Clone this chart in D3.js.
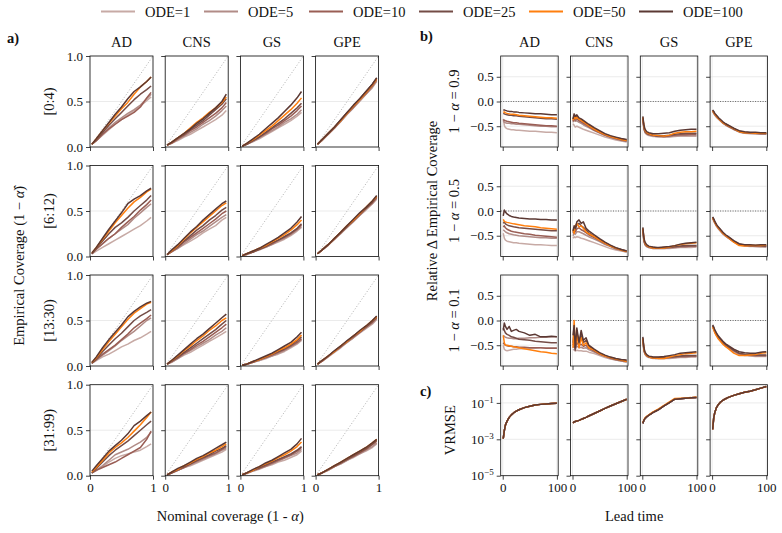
<!DOCTYPE html>
<html>
<head>
<meta charset="utf-8">
<script src="https://cdn.jsdelivr.net/npm/d3@7"></script>
<style>
  body { margin: 0; background: #fff; }
  text { font-family: "Liberation Serif", "Times New Roman", serif; fill: #111; }
</style>
</head>
<body>
<div class="chart"></div>
<script>
// ---- data ----
const odeLabels = ["ODE=1", "ODE=5", "ODE=10", "ODE=25", "ODE=50", "ODE=100"];
const odeColors = ["#c7aaa5", "#b18c87", "#9a5e55", "#744c46", "#ff7f0e", "#5b3833"];
const datasets = ["AD", "CNS", "GS", "GPE"];
const leadBins = ["[0:4)", "[6:12)", "[13:30)", "[31:99)"];
const alphaRows = ["0.9", "0.5", "0.1"];

// panel a: empirical vs nominal coverage, [bin][ode][point]
const nominal = [0.03, 0.1, 0.2, 0.3, 0.4, 0.5, 0.6, 0.7, 0.8, 0.9, 0.97];

const covAD = [
  [[0.03,0.07,0.13,0.19,0.25,0.30,0.35,0.40,0.45,0.51,0.55],
   [0.03,0.07,0.14,0.21,0.27,0.32,0.37,0.41,0.46,0.53,0.58],
   [0.03,0.07,0.14,0.20,0.25,0.30,0.34,0.38,0.44,0.54,0.60],
   [0.03,0.08,0.16,0.24,0.31,0.38,0.45,0.52,0.58,0.63,0.67],
   [0.03,0.09,0.18,0.26,0.34,0.42,0.49,0.58,0.66,0.72,0.77],
   [0.03,0.09,0.18,0.27,0.36,0.44,0.53,0.61,0.66,0.72,0.77]],
  [[0.03,0.06,0.10,0.14,0.18,0.22,0.26,0.30,0.34,0.39,0.43],
   [0.03,0.08,0.14,0.20,0.25,0.30,0.35,0.42,0.48,0.54,0.58],
   [0.03,0.08,0.14,0.20,0.25,0.32,0.38,0.44,0.51,0.57,0.62],
   [0.03,0.09,0.17,0.25,0.32,0.37,0.43,0.50,0.56,0.62,0.67],
   [0.04,0.10,0.19,0.28,0.37,0.45,0.53,0.60,0.65,0.71,0.74],
   [0.04,0.10,0.20,0.30,0.39,0.48,0.58,0.63,0.67,0.72,0.75]],
  [[0.03,0.06,0.10,0.13,0.17,0.21,0.24,0.28,0.31,0.35,0.38],
   [0.03,0.07,0.12,0.17,0.22,0.28,0.33,0.38,0.44,0.50,0.53],
   [0.03,0.07,0.13,0.18,0.23,0.29,0.35,0.42,0.47,0.52,0.56],
   [0.03,0.08,0.16,0.23,0.30,0.36,0.43,0.50,0.55,0.59,0.62],
   [0.04,0.09,0.18,0.27,0.35,0.43,0.51,0.58,0.63,0.68,0.70],
   [0.04,0.10,0.20,0.29,0.37,0.45,0.54,0.60,0.65,0.69,0.71]],
  [[0.03,0.06,0.10,0.15,0.19,0.22,0.24,0.26,0.28,0.32,0.35],
   [0.03,0.06,0.11,0.17,0.23,0.26,0.29,0.33,0.37,0.42,0.48],
   [0.03,0.06,0.09,0.12,0.15,0.19,0.23,0.27,0.31,0.40,0.49],
   [0.03,0.08,0.15,0.22,0.28,0.33,0.38,0.44,0.50,0.56,0.60],
   [0.04,0.09,0.17,0.25,0.31,0.36,0.42,0.49,0.56,0.64,0.70],
   [0.05,0.11,0.19,0.27,0.33,0.39,0.46,0.55,0.60,0.66,0.70]]
];
const covCNS = [
  [[0.02,0.04,0.07,0.11,0.14,0.18,0.22,0.26,0.30,0.35,0.40],
   [0.02,0.04,0.08,0.12,0.16,0.20,0.25,0.29,0.34,0.40,0.45],
   [0.02,0.04,0.09,0.13,0.18,0.22,0.27,0.32,0.37,0.43,0.49],
   [0.02,0.05,0.10,0.14,0.19,0.24,0.29,0.35,0.41,0.47,0.53],
   [0.02,0.05,0.10,0.15,0.21,0.27,0.32,0.38,0.43,0.49,0.55],
   [0.02,0.05,0.10,0.15,0.20,0.26,0.31,0.37,0.43,0.50,0.58]],
  [[0.02,0.05,0.09,0.13,0.17,0.21,0.26,0.30,0.34,0.40,0.43],
   [0.02,0.05,0.09,0.14,0.19,0.24,0.28,0.33,0.38,0.43,0.46],
   [0.02,0.05,0.10,0.16,0.21,0.26,0.31,0.36,0.41,0.47,0.50],
   [0.02,0.06,0.11,0.17,0.23,0.29,0.34,0.40,0.45,0.51,0.54],
   [0.02,0.06,0.12,0.19,0.26,0.32,0.38,0.44,0.50,0.56,0.59],
   [0.02,0.07,0.13,0.20,0.27,0.33,0.40,0.46,0.52,0.58,0.61]],
  [[0.02,0.04,0.08,0.12,0.15,0.19,0.23,0.27,0.31,0.35,0.38],
   [0.02,0.04,0.08,0.13,0.17,0.21,0.25,0.29,0.34,0.38,0.42],
   [0.02,0.05,0.09,0.14,0.18,0.23,0.27,0.32,0.37,0.42,0.46],
   [0.02,0.05,0.10,0.15,0.20,0.25,0.30,0.35,0.40,0.46,0.50],
   [0.02,0.06,0.11,0.17,0.22,0.28,0.33,0.39,0.44,0.50,0.53],
   [0.02,0.06,0.12,0.18,0.24,0.30,0.35,0.41,0.47,0.53,0.57]],
  [[0.01,0.03,0.06,0.09,0.11,0.14,0.17,0.20,0.23,0.26,0.29],
   [0.01,0.03,0.06,0.09,0.12,0.15,0.18,0.21,0.24,0.28,0.30],
   [0.01,0.03,0.06,0.09,0.13,0.16,0.19,0.22,0.25,0.29,0.32],
   [0.01,0.03,0.07,0.10,0.13,0.17,0.20,0.23,0.27,0.30,0.33],
   [0.01,0.04,0.07,0.11,0.14,0.18,0.21,0.25,0.28,0.32,0.35],
   [0.01,0.04,0.08,0.11,0.15,0.19,0.22,0.26,0.30,0.34,0.37]]
];
const covGS = [
  [[0.01,0.03,0.06,0.09,0.13,0.17,0.21,0.25,0.29,0.34,0.38],
   [0.01,0.03,0.06,0.10,0.14,0.18,0.22,0.27,0.31,0.36,0.41],
   [0.01,0.03,0.07,0.11,0.15,0.20,0.24,0.29,0.34,0.40,0.45],
   [0.01,0.03,0.07,0.11,0.16,0.21,0.26,0.31,0.37,0.43,0.48],
   [0.01,0.04,0.08,0.13,0.18,0.23,0.29,0.35,0.41,0.48,0.54],
   [0.01,0.04,0.09,0.14,0.20,0.26,0.32,0.39,0.46,0.54,0.61]],
  [[0.01,0.02,0.05,0.07,0.10,0.13,0.16,0.19,0.23,0.28,0.32],
   [0.01,0.02,0.05,0.08,0.10,0.13,0.17,0.20,0.24,0.29,0.33],
   [0.01,0.03,0.05,0.08,0.11,0.14,0.18,0.21,0.25,0.30,0.35],
   [0.01,0.03,0.05,0.08,0.11,0.15,0.18,0.22,0.26,0.31,0.36],
   [0.01,0.03,0.06,0.09,0.12,0.16,0.20,0.24,0.29,0.35,0.40],
   [0.01,0.03,0.06,0.09,0.13,0.17,0.21,0.26,0.31,0.38,0.44]],
  [[0.01,0.02,0.04,0.06,0.08,0.11,0.13,0.16,0.20,0.24,0.28],
   [0.01,0.02,0.04,0.06,0.09,0.11,0.14,0.17,0.21,0.25,0.29],
   [0.01,0.02,0.04,0.07,0.09,0.12,0.15,0.18,0.22,0.26,0.30],
   [0.01,0.02,0.05,0.07,0.10,0.13,0.16,0.19,0.23,0.28,0.32],
   [0.01,0.02,0.05,0.07,0.10,0.13,0.17,0.20,0.24,0.29,0.34],
   [0.01,0.02,0.05,0.08,0.11,0.14,0.18,0.22,0.26,0.32,0.37]],
  [[0.01,0.02,0.05,0.07,0.10,0.12,0.15,0.17,0.20,0.23,0.27],
   [0.01,0.03,0.05,0.08,0.10,0.13,0.16,0.19,0.22,0.25,0.29],
   [0.01,0.03,0.06,0.08,0.11,0.14,0.17,0.20,0.23,0.27,0.31],
   [0.01,0.03,0.06,0.09,0.12,0.15,0.18,0.21,0.24,0.28,0.32],
   [0.01,0.03,0.06,0.10,0.13,0.16,0.20,0.23,0.27,0.32,0.37],
   [0.01,0.03,0.07,0.10,0.14,0.17,0.21,0.25,0.29,0.35,0.41]]
];
const covGPE = [
  [[0.03,0.07,0.14,0.21,0.28,0.36,0.43,0.50,0.58,0.65,0.72],
   [0.03,0.07,0.14,0.21,0.28,0.36,0.43,0.51,0.58,0.66,0.73],
   [0.03,0.08,0.14,0.21,0.29,0.37,0.44,0.52,0.59,0.67,0.74],
   [0.03,0.08,0.15,0.22,0.30,0.38,0.45,0.53,0.61,0.69,0.76],
   [0.03,0.08,0.15,0.22,0.29,0.37,0.45,0.52,0.60,0.68,0.75],
   [0.03,0.08,0.15,0.22,0.30,0.38,0.46,0.53,0.61,0.69,0.76]],
  [[0.03,0.07,0.12,0.19,0.25,0.32,0.38,0.45,0.51,0.58,0.63],
   [0.03,0.07,0.13,0.19,0.26,0.32,0.39,0.45,0.52,0.58,0.64],
   [0.03,0.07,0.13,0.19,0.26,0.33,0.39,0.46,0.53,0.59,0.65],
   [0.03,0.07,0.13,0.20,0.26,0.33,0.40,0.47,0.53,0.60,0.66],
   [0.03,0.07,0.13,0.20,0.27,0.34,0.40,0.47,0.54,0.61,0.66],
   [0.03,0.07,0.13,0.20,0.27,0.34,0.41,0.48,0.54,0.61,0.67]],
  [[0.02,0.05,0.10,0.15,0.20,0.26,0.31,0.36,0.41,0.46,0.51],
   [0.02,0.05,0.10,0.16,0.21,0.26,0.31,0.37,0.42,0.47,0.52],
   [0.02,0.05,0.11,0.16,0.21,0.27,0.32,0.37,0.43,0.48,0.53],
   [0.02,0.06,0.11,0.16,0.22,0.27,0.33,0.38,0.43,0.49,0.54],
   [0.02,0.06,0.11,0.16,0.22,0.27,0.33,0.38,0.44,0.50,0.54],
   [0.02,0.06,0.11,0.17,0.22,0.28,0.33,0.39,0.44,0.50,0.55]],
  [[0.01,0.03,0.06,0.10,0.13,0.17,0.20,0.24,0.27,0.31,0.35],
   [0.01,0.03,0.06,0.10,0.13,0.17,0.21,0.24,0.28,0.32,0.36],
   [0.01,0.03,0.07,0.10,0.14,0.18,0.21,0.25,0.29,0.34,0.38],
   [0.01,0.03,0.07,0.11,0.14,0.18,0.22,0.26,0.30,0.35,0.39],
   [0.01,0.03,0.07,0.11,0.15,0.19,0.23,0.27,0.31,0.36,0.40],
   [0.01,0.03,0.07,0.11,0.15,0.19,0.23,0.27,0.31,0.36,0.40]]
];

// panel b: relative change of empirical coverage vs lead time, [alpha row][ode][point]
const leadTimes = [1, 3, 5, 8, 12, 16, 20, 25, 30, 40, 50, 60, 70, 80, 90, 100];

const relAD = [
  [[-0.35,-0.48,-0.53,-0.55,-0.56,-0.57,-0.57,-0.58,-0.58,-0.59,-0.60,-0.60,-0.61,-0.62,-0.62,-0.63],
   [-0.40,-0.42,-0.43,-0.44,-0.44,-0.45,-0.45,-0.46,-0.46,-0.47,-0.48,-0.49,-0.50,-0.50,-0.51,-0.51],
   [-0.37,-0.38,-0.39,-0.40,-0.41,-0.42,-0.43,-0.43,-0.44,-0.45,-0.46,-0.47,-0.48,-0.49,-0.49,-0.50],
   [-0.24,-0.25,-0.26,-0.27,-0.28,-0.28,-0.29,-0.29,-0.30,-0.31,-0.32,-0.33,-0.34,-0.35,-0.35,-0.36],
   [-0.22,-0.21,-0.23,-0.24,-0.25,-0.26,-0.26,-0.27,-0.28,-0.29,-0.30,-0.31,-0.32,-0.33,-0.33,-0.34],
   [-0.17,-0.17,-0.18,-0.19,-0.20,-0.20,-0.21,-0.21,-0.22,-0.23,-0.24,-0.25,-0.25,-0.26,-0.27,-0.27]],
  [[-0.45,-0.55,-0.59,-0.61,-0.62,-0.63,-0.64,-0.64,-0.65,-0.66,-0.67,-0.68,-0.68,-0.69,-0.70,-0.70],
   [-0.38,-0.40,-0.42,-0.44,-0.46,-0.47,-0.48,-0.49,-0.50,-0.51,-0.52,-0.53,-0.54,-0.54,-0.55,-0.55],
   [-0.32,-0.30,-0.34,-0.37,-0.39,-0.41,-0.42,-0.43,-0.44,-0.46,-0.47,-0.49,-0.50,-0.51,-0.52,-0.53],
   [-0.25,-0.22,-0.26,-0.28,-0.30,-0.31,-0.32,-0.33,-0.34,-0.35,-0.36,-0.37,-0.38,-0.39,-0.40,-0.40],
   [-0.17,-0.21,-0.22,-0.23,-0.24,-0.25,-0.26,-0.27,-0.28,-0.30,-0.31,-0.32,-0.34,-0.35,-0.36,-0.37],
   [-0.10,0.02,-0.02,-0.06,-0.09,-0.11,-0.12,-0.13,-0.14,-0.15,-0.16,-0.16,-0.17,-0.17,-0.18,-0.18]],
  [[-0.50,-0.58,-0.60,-0.61,-0.60,-0.59,-0.58,-0.58,-0.57,-0.57,-0.56,-0.56,-0.55,-0.55,-0.55,-0.55],
   [-0.30,-0.32,-0.34,-0.35,-0.36,-0.36,-0.37,-0.37,-0.36,-0.36,-0.35,-0.35,-0.34,-0.34,-0.33,-0.33],
   [-0.45,-0.48,-0.50,-0.51,-0.52,-0.52,-0.53,-0.53,-0.54,-0.54,-0.55,-0.55,-0.55,-0.56,-0.56,-0.56],
   [-0.15,-0.20,-0.25,-0.28,-0.30,-0.33,-0.34,-0.36,-0.38,-0.39,-0.40,-0.42,-0.43,-0.44,-0.45,-0.45],
   [-0.30,-0.45,-0.50,-0.50,-0.51,-0.52,-0.53,-0.54,-0.55,-0.57,-0.59,-0.61,-0.63,-0.64,-0.66,-0.67],
   [-0.20,-0.05,-0.12,-0.18,-0.12,-0.22,-0.20,-0.18,-0.22,-0.25,-0.30,-0.28,-0.33,-0.33,-0.32,-0.33]]
];
const relCNS = [
  [[-0.45,-0.48,-0.52,-0.50,-0.52,-0.54,-0.56,-0.58,-0.60,-0.64,-0.68,-0.72,-0.75,-0.78,-0.80,-0.82],
   [-0.42,-0.37,-0.40,-0.39,-0.42,-0.44,-0.47,-0.50,-0.53,-0.59,-0.64,-0.69,-0.73,-0.76,-0.79,-0.81],
   [-0.40,-0.33,-0.38,-0.35,-0.39,-0.41,-0.44,-0.47,-0.51,-0.58,-0.63,-0.68,-0.72,-0.75,-0.78,-0.80],
   [-0.36,-0.28,-0.33,-0.30,-0.35,-0.37,-0.40,-0.44,-0.48,-0.55,-0.61,-0.66,-0.70,-0.73,-0.76,-0.78],
   [-0.38,-0.30,-0.35,-0.32,-0.36,-0.38,-0.41,-0.45,-0.49,-0.56,-0.62,-0.67,-0.71,-0.74,-0.77,-0.79],
   [-0.35,-0.25,-0.30,-0.27,-0.33,-0.35,-0.38,-0.42,-0.46,-0.53,-0.59,-0.65,-0.69,-0.72,-0.75,-0.77]],
  [[-0.55,-0.52,-0.54,-0.52,-0.53,-0.55,-0.56,-0.58,-0.60,-0.64,-0.68,-0.72,-0.76,-0.79,-0.81,-0.83],
   [-0.50,-0.45,-0.47,-0.42,-0.42,-0.44,-0.46,-0.49,-0.52,-0.57,-0.62,-0.68,-0.72,-0.77,-0.80,-0.83],
   [-0.45,-0.40,-0.42,-0.36,-0.34,-0.38,-0.40,-0.44,-0.48,-0.54,-0.60,-0.66,-0.71,-0.76,-0.79,-0.82],
   [-0.42,-0.35,-0.38,-0.28,-0.25,-0.30,-0.33,-0.38,-0.44,-0.51,-0.58,-0.64,-0.70,-0.75,-0.78,-0.81],
   [-0.38,-0.45,-0.30,-0.25,-0.32,-0.30,-0.35,-0.42,-0.46,-0.52,-0.59,-0.65,-0.71,-0.75,-0.79,-0.82],
   [-0.40,-0.30,-0.35,-0.22,-0.18,-0.25,-0.22,-0.35,-0.40,-0.48,-0.56,-0.63,-0.69,-0.74,-0.78,-0.81]],
  [[-0.60,-0.58,-0.62,-0.60,-0.61,-0.61,-0.62,-0.62,-0.64,-0.67,-0.71,-0.75,-0.78,-0.80,-0.82,-0.84],
   [-0.55,-0.50,-0.58,-0.52,-0.55,-0.54,-0.56,-0.55,-0.59,-0.64,-0.69,-0.73,-0.77,-0.80,-0.82,-0.84],
   [-0.50,-0.40,-0.55,-0.45,-0.50,-0.48,-0.52,-0.50,-0.56,-0.62,-0.68,-0.72,-0.76,-0.79,-0.81,-0.83],
   [-0.45,-0.20,-0.60,-0.25,-0.40,-0.30,-0.45,-0.40,-0.52,-0.60,-0.66,-0.71,-0.75,-0.78,-0.80,-0.82],
   [-0.55,0.00,-0.50,-0.30,-0.55,-0.35,-0.50,-0.45,-0.55,-0.60,-0.67,-0.72,-0.75,-0.78,-0.80,-0.83],
   [-0.30,-0.10,-0.55,-0.15,-0.45,-0.20,-0.40,-0.35,-0.50,-0.58,-0.65,-0.70,-0.74,-0.77,-0.79,-0.80]]
];
const relGS = [
  [[-0.38,-0.56,-0.63,-0.67,-0.69,-0.70,-0.71,-0.71,-0.72,-0.72,-0.72,-0.71,-0.70,-0.70,-0.70,-0.70],
   [-0.36,-0.55,-0.62,-0.66,-0.68,-0.69,-0.70,-0.71,-0.71,-0.72,-0.71,-0.70,-0.69,-0.69,-0.69,-0.69],
   [-0.35,-0.54,-0.61,-0.65,-0.67,-0.68,-0.69,-0.70,-0.70,-0.71,-0.70,-0.68,-0.67,-0.67,-0.66,-0.66],
   [-0.33,-0.52,-0.59,-0.64,-0.66,-0.67,-0.68,-0.69,-0.69,-0.69,-0.68,-0.66,-0.65,-0.64,-0.64,-0.64],
   [-0.32,-0.50,-0.58,-0.63,-0.65,-0.67,-0.68,-0.68,-0.69,-0.70,-0.68,-0.64,-0.62,-0.61,-0.61,-0.60],
   [-0.30,-0.48,-0.56,-0.61,-0.63,-0.64,-0.65,-0.65,-0.65,-0.64,-0.63,-0.60,-0.58,-0.57,-0.56,-0.56]],
  [[-0.42,-0.62,-0.69,-0.72,-0.74,-0.75,-0.76,-0.76,-0.76,-0.76,-0.76,-0.75,-0.74,-0.74,-0.74,-0.73],
   [-0.40,-0.61,-0.68,-0.72,-0.74,-0.75,-0.76,-0.76,-0.76,-0.76,-0.75,-0.74,-0.73,-0.73,-0.72,-0.72],
   [-0.38,-0.60,-0.67,-0.71,-0.73,-0.74,-0.75,-0.75,-0.75,-0.75,-0.74,-0.73,-0.72,-0.72,-0.71,-0.71],
   [-0.36,-0.58,-0.66,-0.70,-0.72,-0.73,-0.74,-0.74,-0.75,-0.74,-0.73,-0.72,-0.71,-0.70,-0.70,-0.70],
   [-0.35,-0.57,-0.65,-0.70,-0.72,-0.74,-0.75,-0.75,-0.75,-0.75,-0.73,-0.70,-0.68,-0.66,-0.65,-0.64],
   [-0.33,-0.55,-0.63,-0.68,-0.71,-0.72,-0.73,-0.74,-0.74,-0.73,-0.72,-0.70,-0.67,-0.65,-0.64,-0.63]],
  [[-0.42,-0.62,-0.69,-0.73,-0.75,-0.76,-0.77,-0.77,-0.77,-0.77,-0.77,-0.76,-0.75,-0.75,-0.74,-0.74],
   [-0.40,-0.61,-0.68,-0.72,-0.74,-0.75,-0.76,-0.77,-0.77,-0.77,-0.76,-0.75,-0.74,-0.74,-0.73,-0.73],
   [-0.38,-0.60,-0.67,-0.71,-0.74,-0.75,-0.76,-0.76,-0.76,-0.76,-0.75,-0.74,-0.73,-0.73,-0.72,-0.72],
   [-0.36,-0.58,-0.66,-0.70,-0.73,-0.74,-0.75,-0.75,-0.75,-0.75,-0.74,-0.73,-0.72,-0.71,-0.71,-0.71],
   [-0.36,-0.58,-0.66,-0.71,-0.73,-0.75,-0.76,-0.76,-0.77,-0.77,-0.74,-0.71,-0.69,-0.67,-0.66,-0.65],
   [-0.33,-0.55,-0.64,-0.69,-0.72,-0.73,-0.74,-0.74,-0.74,-0.73,-0.71,-0.69,-0.66,-0.65,-0.64,-0.63]]
];
const relGPE = [
  [[-0.21,-0.24,-0.28,-0.32,-0.36,-0.40,-0.44,-0.48,-0.51,-0.57,-0.62,-0.64,-0.65,-0.65,-0.66,-0.66],
   [-0.20,-0.23,-0.27,-0.31,-0.36,-0.40,-0.44,-0.47,-0.50,-0.56,-0.61,-0.64,-0.64,-0.65,-0.65,-0.66],
   [-0.19,-0.22,-0.26,-0.30,-0.35,-0.39,-0.43,-0.47,-0.50,-0.56,-0.61,-0.63,-0.64,-0.64,-0.65,-0.65],
   [-0.18,-0.21,-0.25,-0.29,-0.34,-0.38,-0.42,-0.46,-0.49,-0.55,-0.60,-0.62,-0.63,-0.63,-0.64,-0.64],
   [-0.19,-0.22,-0.26,-0.30,-0.35,-0.39,-0.43,-0.46,-0.49,-0.55,-0.61,-0.63,-0.63,-0.64,-0.64,-0.64],
   [-0.17,-0.20,-0.24,-0.28,-0.33,-0.37,-0.41,-0.45,-0.48,-0.54,-0.59,-0.61,-0.62,-0.62,-0.63,-0.63]],
  [[-0.16,-0.20,-0.25,-0.31,-0.37,-0.42,-0.47,-0.51,-0.55,-0.63,-0.69,-0.71,-0.72,-0.72,-0.73,-0.73],
   [-0.15,-0.19,-0.24,-0.30,-0.36,-0.41,-0.46,-0.51,-0.55,-0.62,-0.68,-0.70,-0.71,-0.72,-0.72,-0.72],
   [-0.14,-0.18,-0.23,-0.29,-0.35,-0.40,-0.45,-0.50,-0.54,-0.62,-0.68,-0.70,-0.71,-0.71,-0.71,-0.72],
   [-0.13,-0.17,-0.22,-0.28,-0.34,-0.39,-0.44,-0.49,-0.53,-0.61,-0.67,-0.69,-0.70,-0.70,-0.70,-0.71],
   [-0.14,-0.18,-0.23,-0.29,-0.35,-0.40,-0.45,-0.50,-0.54,-0.63,-0.70,-0.71,-0.70,-0.70,-0.70,-0.69],
   [-0.12,-0.16,-0.21,-0.27,-0.33,-0.38,-0.43,-0.48,-0.52,-0.60,-0.66,-0.68,-0.68,-0.69,-0.68,-0.68]],
  [[-0.14,-0.18,-0.24,-0.30,-0.37,-0.42,-0.47,-0.52,-0.56,-0.63,-0.69,-0.71,-0.72,-0.73,-0.73,-0.73],
   [-0.13,-0.17,-0.23,-0.29,-0.36,-0.41,-0.46,-0.51,-0.55,-0.62,-0.68,-0.70,-0.71,-0.72,-0.72,-0.72],
   [-0.12,-0.16,-0.22,-0.28,-0.35,-0.40,-0.45,-0.50,-0.54,-0.61,-0.67,-0.69,-0.70,-0.71,-0.71,-0.71],
   [-0.11,-0.15,-0.21,-0.27,-0.34,-0.39,-0.44,-0.49,-0.53,-0.60,-0.66,-0.68,-0.69,-0.70,-0.70,-0.70],
   [-0.13,-0.18,-0.25,-0.31,-0.38,-0.43,-0.48,-0.53,-0.57,-0.66,-0.71,-0.71,-0.70,-0.69,-0.66,-0.65],
   [-0.09,-0.13,-0.19,-0.25,-0.32,-0.37,-0.42,-0.47,-0.51,-0.58,-0.63,-0.65,-0.66,-0.66,-0.64,-0.63]]
];

// panel c: VRMSE vs lead time (curves of all ODE settings overlap)
const vrmseAD  = [1.1e-3,3.0e-3,6.0e-3,1.0e-2,1.6e-2,2.2e-2,2.8e-2,3.5e-2,4.2e-2,5.5e-2,6.6e-2,7.6e-2,8.3e-2,8.8e-2,9.2e-2,9.5e-2];
const vrmseCNS = [8.0e-3,9.0e-3,9.5e-3,1.0e-2,1.1e-2,1.25e-2,1.4e-2,1.6e-2,1.9e-2,2.6e-2,3.6e-2,5.0e-2,6.8e-2,9.0e-2,1.2e-1,1.6e-1];
const vrmseGS  = [7.5e-3,1.1e-2,1.4e-2,1.7e-2,2.1e-2,2.5e-2,3.0e-2,3.6e-2,4.3e-2,6.8e-2,1.05e-1,1.6e-1,1.7e-1,1.8e-1,1.9e-1,2.0e-1];
const vrmseGPE = [3.5e-3,1.5e-2,3.0e-2,5.5e-2,8.5e-2,1.15e-1,1.4e-1,1.7e-1,2.0e-1,2.6e-1,3.2e-1,3.8e-1,4.4e-1,5.3e-1,6.5e-1,8.0e-1];
const vrmseGS50 = [8.0e-3,1.2e-2,1.5e-2,1.8e-2,2.2e-2,2.7e-2,3.2e-2,3.9e-2,4.7e-2,7.4e-2,1.15e-1,1.75e-1,1.8e-1,1.85e-1,1.95e-1,2.1e-1];

const covByDataset = [covAD, covCNS, covGS, covGPE];
const relByDataset = [relAD, relCNS, relGS, relGPE];
const vrmseByDataset = [
  [vrmseAD, vrmseAD, vrmseAD, vrmseAD, vrmseAD, vrmseAD],
  [vrmseCNS, vrmseCNS, vrmseCNS, vrmseCNS, vrmseCNS, vrmseCNS],
  [vrmseGS, vrmseGS, vrmseGS, vrmseGS, vrmseGS50, vrmseGS],
  [vrmseGPE, vrmseGPE, vrmseGPE, vrmseGPE, vrmseGPE, vrmseGPE]
];

// ---- layout ----
const W = 782, H = 533;
const rowTop = [56, 165.5, 275, 384.7];
const rowH = 91;
const aLeft = [90, 165.2, 240.4, 315.6], aW = 63;
const bLeft = [500.7, 570.5, 640.3, 710.1], bW = 57.5;

const svg = d3.select(".chart").append("svg")
  .attr("width", W).attr("height", H)
  .attr("font-family", '"Liberation Serif", "Times New Roman", serif');

const minus = s => s.replace("-", "\u2212");

function drawPanel(o) {
  const g = svg.append("g").attr("transform", `translate(${o.x},${o.y})`);
  const x = d3.scaleLinear().domain(o.xDomain).range([0, o.w]);
  const y = (o.log ? d3.scaleLog() : d3.scaleLinear()).domain(o.yDomain).range([o.h, 0]);

  // grid
  g.selectAll(".hg").data(o.yTicks).join("line")
    .attr("x1", 0).attr("x2", o.w).attr("y1", d => y(d)).attr("y2", d => y(d))
    .attr("stroke", "#e6e6e6").attr("stroke-width", 0.8);
  g.selectAll(".vg").data(o.xTicks).join("line")
    .attr("y1", 0).attr("y2", o.h).attr("x1", d => x(d)).attr("x2", d => x(d))
    .attr("stroke", "#e6e6e6").attr("stroke-width", 0.8);

  if (o.ref) o.ref(g, x, y);

  const clipId = "c" + Math.round(o.x) + "_" + Math.round(o.y);
  g.append("clipPath").attr("id", clipId).append("rect").attr("width", o.w).attr("height", o.h);

  const line = d3.line().x(d => x(d[0])).y(d => y(d[1]));
  o.series.forEach((vals, i) => {
    g.append("path")
      .datum(o.xs.map((xv, j) => [xv, vals[j]]))
      .attr("d", line)
      .attr("clip-path", `url(#${clipId})`)
      .attr("fill", "none")
      .attr("stroke", odeColors[i])
      .attr("stroke-width", 1.5)
      .attr("stroke-linejoin", "round");
  });

  g.append("rect").attr("width", o.w).attr("height", o.h)
    .attr("fill", "none").attr("stroke", "#111").attr("stroke-width", 0.8);

  const ya = d3.axisLeft(y).tickValues(o.yTicks).tickSize(4).tickPadding(3)
    .tickFormat(o.showY ? o.yFmt : "");
  const gy = g.append("g").call(ya);
  gy.select(".domain").remove();
  gy.selectAll("text").attr("font-size", 13).attr("fill", "#111")
    .style("font-family", '"Liberation Serif", serif');
  if (o.log && o.showY) {
    gy.selectAll("text").each(function(d) {
      const t = d3.select(this).text("10");
      t.append("tspan").attr("dy", -5).attr("font-size", 9).text("\u2212" + (-Math.log10(d)));
    });
  }

  const xa = d3.axisBottom(x).tickValues(o.xTicks).tickSize(4).tickPadding(3)
    .tickFormat(o.showX ? o.xFmt : "");
  const gx = g.append("g").attr("transform", `translate(0,${o.h})`).call(xa);
  gx.select(".domain").remove();
  gx.selectAll("text").attr("font-size", 13).attr("fill", "#111")
    .style("font-family", '"Liberation Serif", serif');
  svg.selectAll(".tick line").attr("stroke", "#111").attr("stroke-width", 0.8);
}

// panel a
datasets.forEach((ds, c) => {
  leadBins.forEach((bin, r) => {
    drawPanel({
      x: aLeft[c], y: rowTop[r], w: aW, h: rowH,
      xDomain: [0, 1], yDomain: [0, 1],
      xTicks: [0, 1], yTicks: [0, 0.5, 1],
      xFmt: d3.format("d"), yFmt: d3.format(".1f"),
      showX: r === 3, showY: c === 0,
      xs: nominal, series: covByDataset[c][r],
      ref: (g, x, y) => g.append("line")
        .attr("x1", x(0)).attr("y1", y(0)).attr("x2", x(1)).attr("y2", y(1))
        .attr("stroke", "#9a9a9a").attr("stroke-width", 0.8).attr("stroke-dasharray", "1,2")
    });
  });
});

// panel b (rows 0-2) and c (row 3)
datasets.forEach((ds, c) => {
  alphaRows.forEach((a, r) => {
    drawPanel({
      x: bLeft[c], y: rowTop[r], w: bW, h: rowH,
      xDomain: [-3.7, 102.4], yDomain: [-0.92, 0.92],
      xTicks: [0, 100], yTicks: [-0.5, 0, 0.5],
      xFmt: d3.format("d"), yFmt: d => minus(d3.format(".1f")(d)),
      showX: false, showY: c === 0,
      xs: leadTimes, series: relByDataset[c][r],
      ref: (g, x, y) => g.append("line")
        .attr("x1", 0).attr("x2", bW).attr("y1", y(0)).attr("y2", y(0))
        .attr("stroke", "#444").attr("stroke-width", 0.8).attr("stroke-dasharray", "1,1.5")
    });
  });
  drawPanel({
    x: bLeft[c], y: rowTop[3], w: bW, h: rowH, log: true,
    xDomain: [-3.7, 102.4], yDomain: [1e-5, 1],
    xTicks: [0, 100], yTicks: [1e-5, 1e-3, 1e-1],
    xFmt: d3.format("d"), yFmt: d => String(d),
    showX: true, showY: c === 0,
    xs: leadTimes, series: vrmseByDataset[c]
  });
});

// column titles
const titleG = svg.append("g").attr("font-size", 14.5).attr("text-anchor", "middle");
datasets.forEach((ds, c) => {
  titleG.append("text").attr("x", aLeft[c] + aW / 2).attr("y", 47).text(ds);
  titleG.append("text").attr("x", bLeft[c] + bW / 2).attr("y", 47).text(ds);
});

// row labels
leadBins.forEach((b, r) => {
  const cy = rowTop[r] + rowH / 2;
  svg.append("text").attr("transform", `translate(54,${cy}) rotate(-90)`)
    .attr("text-anchor", "middle").attr("font-size", 14.5).text(b);
});
alphaRows.forEach((a, r) => {
  const cy = rowTop[r] + rowH / 2;
  const t = svg.append("text").attr("transform", `translate(459,${cy}) rotate(-90)`)
    .attr("text-anchor", "middle").attr("font-size", 14.5);
  t.append("tspan").text("1 \u2212 ");
  t.append("tspan").attr("font-style", "italic").text("\u03b1");
  t.append("tspan").text(" = " + a);
});
svg.append("text").attr("transform", `translate(455,${rowTop[3] + rowH / 2}) rotate(-90)`)
  .attr("text-anchor", "middle").attr("font-size", 14.5).text("VRMSE");

// axis labels
const yl = svg.append("text")
  .attr("transform", `translate(24,${(rowTop[0] + rowTop[3] + rowH) / 2}) rotate(-90)`)
  .attr("text-anchor", "middle").attr("font-size", 14.5);
yl.append("tspan").text("Empirical Coverage (1 \u2212 ");
yl.append("tspan").attr("font-style", "italic").text("\u03b1\u0302");
yl.append("tspan").text(")");

svg.append("text")
  .attr("transform", `translate(437,${(rowTop[0] + rowTop[2] + rowH) / 2}) rotate(-90)`)
  .attr("text-anchor", "middle").attr("font-size", 14.5).text("Relative \u0394 Empirical Coverage");

const xl = svg.append("text").attr("x", (aLeft[0] + aLeft[3] + aW) / 2 - 4).attr("y", 521)
  .attr("text-anchor", "middle").attr("font-size", 14.5);
xl.append("tspan").text("Nominal coverage (1 - ");
xl.append("tspan").attr("font-style", "italic").text("\u03b1");
xl.append("tspan").text(")");

svg.append("text").attr("x", (bLeft[0] + bLeft[3] + bW) / 2).attr("y", 521)
  .attr("text-anchor", "middle").attr("font-size", 14.5).text("Lead time");

// panel letters
[["a)", 7, 43], ["b)", 420, 41], ["c)", 420, 396]].forEach(([s, x, y]) => {
  svg.append("text").attr("x", x).attr("y", y).attr("font-size", 14.5)
    .attr("font-weight", "bold").text(s);
});

// legend
const legendX = [101, 204, 309, 419, 529, 639];
const leg = svg.append("g");
odeLabels.forEach((lab, i) => {
  leg.append("line").attr("x1", legendX[i]).attr("x2", legendX[i] + 34)
    .attr("y1", 11.5).attr("y2", 11.5)
    .attr("stroke", odeColors[i]).attr("stroke-width", 1.8);
  leg.append("text").attr("x", legendX[i] + 44).attr("y", 16.5)
    .attr("font-size", 14.5).text(lab);
});
</script>
</body>
</html>
